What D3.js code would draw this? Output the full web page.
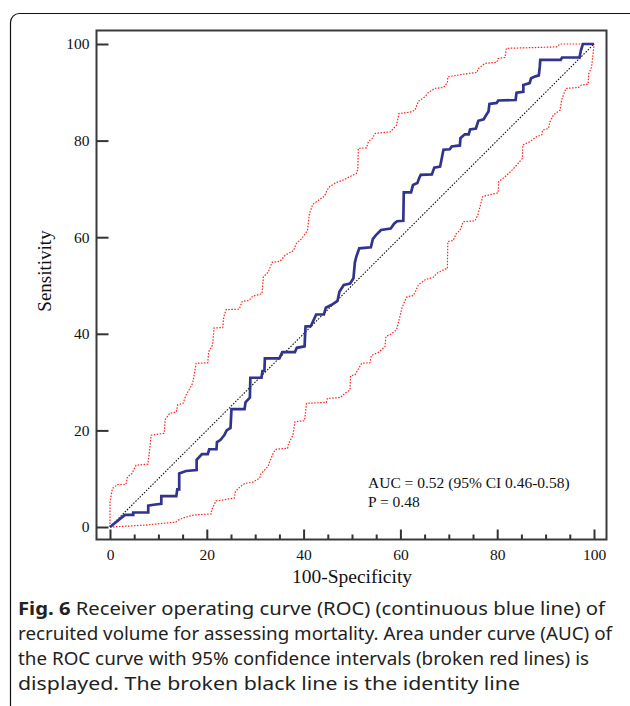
<!DOCTYPE html>
<html>
<head>
<meta charset="utf-8">
<script src="https://cdnjs.cloudflare.com/ajax/libs/d3/7.8.5/d3.min.js"></script>
<style>
  body { margin: 0; background: #fff; }
  #chart { width: 630px; height: 706px; }
</style>
</head>
<body>
<div id="chart"></div>
<script>

// points are [100-specificity, sensitivity]
var rocPoints = [[0,0],[3.1,2.5],[4.8,2.5],[4.8,3.0],[7.9,3.0],[7.9,4.4],[9.0,4.6],[10.6,4.8],[10.6,6.4],[13.7,6.4],[13.9,7.8],[14.3,7.8],[14.3,11.1],[15.7,11.6],[17.9,11.8],[17.9,13.9],[19.0,15.1],[20.2,15.1],[20.5,16.1],[22.0,16.1],[22.1,17.6],[22.8,18.0],[23.6,19.0],[24.1,20.0],[24.9,20.5],[25.1,24.4],[27.8,24.4],[28.0,25.8],[28.9,26.8],[29.0,30.9],[31.3,30.9],[31.5,32.3],[31.9,32.3],[32.0,34.9],[35.0,34.9],[35.6,36.2],[38.2,36.2],[38.6,37.1],[40.2,37.4],[40.4,41.5],[41.5,41.6],[42.6,44.0],[44.2,44.0],[44.6,45.4],[45.8,46.0],[47.0,46.8],[47.4,48.7],[48.3,50.1],[49.6,50.4],[50.3,51.5],[50.6,54.8],[50.9,56.0],[51.5,57.7],[53.9,57.9],[54.3,59.6],[55.0,60.5],[56.0,61.5],[58.0,61.8],[58.7,62.8],[59.3,63.3],[60.6,63.4],[60.7,69.3],[62.2,69.3],[62.6,70.8],[63.5,71.2],[63.9,72.3],[64.2,72.9],[66.5,73.0],[67.0,74.4],[68.2,74.6],[68.9,78.1],[70.2,78.2],[70.6,78.8],[72.3,79.0],[72.4,80.5],[73.3,81.3],[74.1,81.3],[74.4,82.3],[75.6,82.5],[76.1,84.1],[77.2,84.4],[77.6,85.1],[78.2,86.0],[78.4,87.6],[79.9,87.8],[80.2,88.3],[83.8,88.4],[84.0,89.9],[85.4,90.1],[85.4,91.5],[86.7,91.9],[87.0,92.9],[87.9,93.3],[88.6,93.5],[88.8,95.3],[88.9,96.7],[93.1,96.7],[93.4,97.2],[97.0,97.2],[97.3,98.7],[97.7,100],[100,100]];

var upperCI = [[0,0],[0,5.2],[0.5,8.0],[1.6,8.8],[3.3,8.8],[3.6,10.4],[4.5,11.0],[5.4,12.8],[7.8,13.0],[8.1,15.2],[8.5,19.0],[11.2,19.4],[11.4,22.2],[12.3,23.5],[13.7,23.8],[14.0,25.3],[15.1,25.6],[15.7,27.3],[16.4,28.5],[17.1,29.8],[17.8,33.9],[20.2,34.0],[20.4,36.3],[21.2,37.7],[21.5,41.2],[23.3,41.3],[23.5,43.5],[24.0,45.0],[26.7,45.1],[27.3,46.7],[28.7,46.9],[29.5,47.8],[31.4,48.3],[31.7,51.8],[32.7,52.8],[33.5,54.8],[35.1,55.0],[36.2,56.3],[37.9,57.2],[38.5,58.7],[39.6,59.7],[40.8,61.4],[41.2,64.9],[41.9,66.8],[43.0,67.6],[44.3,68.5],[44.9,69.8],[45.4,70.5],[46.7,71.3],[48.1,71.8],[50.1,72.8],[50.9,73.2],[51.2,74.0],[51.3,78.4],[53.0,78.5],[53.4,79.8],[54.2,80.5],[54.8,81.5],[57.9,81.8],[59.2,83.2],[59.7,85.6],[62.0,85.9],[63.0,86.3],[63.7,88.1],[65.1,89.1],[65.8,90.0],[67.1,90.8],[68.9,91.0],[69.7,92.0],[69.8,93.2],[73.3,93.8],[75.8,94.1],[76.1,94.9],[77.5,96.0],[79.9,96.2],[80.2,97.0],[81.6,97.2],[81.9,99.1],[92.3,99.4],[93.0,100],[100,100]];

var lowerCI = [[0,0],[4.0,0.2],[7.4,0.4],[10.2,0.7],[13.6,1.0],[14.0,1.4],[15.5,2.0],[17.4,2.5],[20.9,2.7],[21.0,3.5],[21.9,5.4],[23.4,5.6],[25.7,6.0],[25.9,7.3],[26.5,8.0],[27.8,9.0],[29.5,9.3],[30.9,10.1],[31.2,11.0],[32.6,12.5],[33.8,15.5],[34.3,16.1],[36.7,16.3],[36.9,17.3],[37.8,19.0],[38.2,21.8],[40.2,22.0],[40.6,25.6],[44.7,25.8],[44.9,26.6],[47.6,26.8],[48.6,27.7],[49.6,28.4],[49.7,31.3],[50.6,31.5],[52.0,33.9],[53.7,34.0],[54.0,35.5],[55.5,36.2],[56.8,37.3],[57.0,39.4],[58.0,39.9],[59.2,40.8],[59.8,43.2],[60.3,45.3],[60.9,46.8],[61.4,47.7],[62.7,47.9],[63.7,50.1],[65.1,51.2],[66.8,51.7],[67.5,52.5],[69.2,53.4],[69.7,53.5],[69.8,59.1],[70.9,59.3],[71.5,60.7],[72.3,61.4],[73.0,63.2],[75.4,63.4],[76.0,64.6],[77.0,68.4],[77.7,68.6],[80.2,69.2],[80.3,71.5],[81.6,72.5],[82.8,73.6],[84.0,74.9],[85.2,76.3],[85.3,79.1],[86.8,79.8],[88.1,80.8],[89.2,81.2],[89.4,82.2],[90.6,82.5],[90.9,83.9],[91.6,85.3],[93.0,86.3],[93.3,88.4],[94.2,90.8],[96.8,91.0],[97.4,91.5],[98.8,91.7],[98.9,93.8],[99.5,95.2],[99.7,97.0],[99.9,98.8],[100,100]];

var identityLine = [[0,0],[100,100]];

var xTicks = [0, 20, 40, 60, 80, 100];
var xMinorTicks = [5, 10, 15, 25, 30, 35, 45, 50, 55, 65, 70, 75, 85, 90, 95];
var yTicks = [0, 20, 40, 60, 80, 100];

var xTitle = "100-Specificity";
var yTitle = "Sensitivity";
var statLines = ["AUC = 0.52 (95% CI 0.46-0.58)", "P = 0.48"];

var captionBold = "Fig. 6";
var captionLines = [
  "  Receiver operating curve (ROC) (continuous blue line) of",
  "recruited volume for assessing mortality. Area under curve (AUC) of",
  "the ROC curve with 95% confidence intervals (broken red lines) is",
  "displayed. The broken black line is the identity line"
];
var captionWidths = [587, 594, 571, 502];


RocChart = function(_parentElement) {
  this.parentElement = _parentElement;
  this.width = 630;
  this.height = 706;
  this.initVis();
};

RocChart.prototype.initVis = function() {
  var vis = this;

  vis.svg = d3.select(vis.parentElement).append("svg")
    .attr("width", vis.width)
    .attr("height", vis.height);

  // frame of the figure box (runs off the right / bottom of the page)
  vis.svg.append("rect")
    .attr("x", 10.5).attr("y", 13.5)
    .attr("width", 630).attr("height", 730)
    .attr("rx", 9)
    .attr("fill", "none")
    .attr("stroke", "#111")
    .attr("stroke-width", 1.2);

  vis.plot = {left: 96.5, top: 30.5, right: 606.5, bottom: 539.5};

  vis.x = d3.scaleLinear().domain([0, 100]).range([110, 594]);
  vis.y = d3.scaleLinear().domain([0, 100]).range([527, 44]);

  vis.createVis();
};

RocChart.prototype.createVis = function() {
  var vis = this;
  var p = vis.plot;

  // plot frame
  vis.svg.append("rect")
    .attr("x", p.left).attr("y", p.top)
    .attr("width", p.right - p.left).attr("height", p.bottom - p.top)
    .attr("fill", "none")
    .attr("stroke", "#3a3a3a")
    .attr("stroke-width", 2);

  // y axis, ticks pointing inward
  var yAxis = d3.axisLeft(vis.y)
    .tickValues(yTicks)
    .tickSizeInner(-12)
    .tickSizeOuter(0)
    .tickPadding(7);

  vis.svg.append("g")
    .attr("class", "axis")
    .attr("transform", "translate(" + p.left + ",0)")
    .call(yAxis);

  // x axis, major + minor ticks pointing up
  var xAxis = d3.axisBottom(vis.x)
    .tickValues(xTicks)
    .tickSizeInner(-10)
    .tickSizeOuter(0)
    .tickPadding(9);

  vis.svg.append("g")
    .attr("class", "axis")
    .attr("transform", "translate(0," + p.bottom + ")")
    .call(xAxis);

  var xMinor = d3.axisBottom(vis.x)
    .tickValues(xMinorTicks)
    .tickSizeInner(-5)
    .tickSizeOuter(0)
    .tickFormat("");

  vis.svg.append("g")
    .attr("class", "axis")
    .attr("transform", "translate(0," + p.bottom + ")")
    .call(xMinor);

  vis.svg.selectAll(".axis .domain").remove();
  vis.svg.selectAll(".axis line")
    .attr("stroke", "#333")
    .attr("stroke-width", 2);
  vis.svg.selectAll(".axis text")
    .attr("fill", "#111")
    .style("font-family", "'Liberation Serif', 'Times New Roman', serif")
    .style("font-size", "15.5px");

  // axis titles
  vis.svg.append("text")
    .attr("x", vis.x(50))
    .attr("y", 583)
    .attr("text-anchor", "middle")
    .attr("fill", "#111")
    .style("font-family", "'Liberation Serif', serif")
    .style("font-size", "19.5px")
    .text(xTitle);

  vis.svg.append("text")
    .attr("transform", "translate(51," + vis.y(53) + ") rotate(-90)")
    .attr("text-anchor", "middle")
    .attr("fill", "#111")
    .style("font-family", "'Liberation Serif', serif")
    .style("font-size", "19px")
    .text(yTitle);

  var line = d3.line()
    .x(function(d) { return vis.x(d[0]); })
    .y(function(d) { return vis.y(d[1]); });

  vis.svg.append("path")
    .datum(identityLine)
    .attr("d", line)
    .attr("fill", "none")
    .attr("stroke", "#111")
    .attr("stroke-width", 1.1)
    .attr("stroke-dasharray", "1.5,1.5");

  vis.svg.selectAll(".ci")
    .data([upperCI, lowerCI])
    .enter().append("path")
    .attr("class", "ci")
    .attr("d", line)
    .attr("fill", "none")
    .attr("stroke", "#ff2020")
    .attr("stroke-width", 1.2)
    .attr("stroke-dasharray", "1.5,1.5");

  vis.svg.append("path")
    .datum(rocPoints)
    .attr("d", line)
    .attr("fill", "none")
    .attr("stroke", "#31338f")
    .attr("stroke-width", 2.7)
    .attr("stroke-linejoin", "miter");

  // AUC annotation
  vis.svg.selectAll(".stat")
    .data(statLines)
    .enter().append("text")
    .attr("class", "stat")
    .attr("x", 368)
    .attr("y", function(d, i) { return 488 + i * 19; })
    .attr("fill", "#111")
    .style("font-family", "'Liberation Serif', serif")
    .style("font-size", "15.5px")
    .text(function(d) { return d; });

  // caption under the chart
  var cap = vis.svg.selectAll(".caption")
    .data(captionLines)
    .enter().append("text")
    .attr("class", "caption")
    .attr("x", 18)
    .attr("y", function(d, i) { return 615 + i * 25; })
    .attr("textLength", function(d, i) { return captionWidths[i]; })
    .attr("lengthAdjust", "spacingAndGlyphs")
    .attr("fill", "#222")
    .style("font-family", "'Noto Sans', 'Open Sans', sans-serif")
    .style("font-size", "18.5px");

  cap.each(function(d, i) {
    var t = d3.select(this);
    if (i == 0) {
      t.append("tspan").attr("font-weight", "bold").text(captionBold);
    }
    t.append("tspan").text(d);
  });
};

var chart = new RocChart("#chart");
</script>
</body>
</html>
